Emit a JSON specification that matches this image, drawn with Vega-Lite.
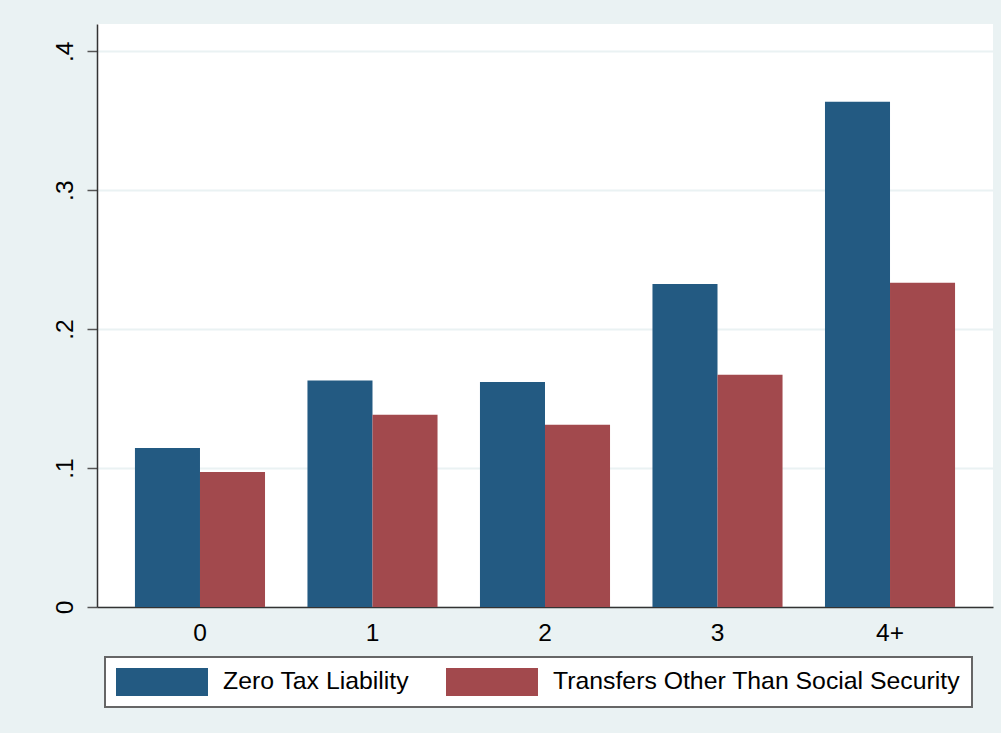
{
  "$schema": "https://vega.github.io/schema/vega-lite/v6.json",
  "width": 896,
  "height": 583,
  "autosize": {"type": "none"},
  "padding": {"left": 97, "top": 24, "right": 8, "bottom": 126},
  "background": "#EAF2F3",
  "config": {
    "font": "Liberation Sans",
    "view": {"fill": "white", "stroke": null},
    "legend": {"strokeWidth": 2}
  },
  "data": {
    "values": [
      {"kids": "0", "series": "Zero Tax Liability", "share": 0.1144},
      {"kids": "0", "series": "Transfers Other Than Social Security", "share": 0.0971},
      {"kids": "1", "series": "Zero Tax Liability", "share": 0.1630},
      {"kids": "1", "series": "Transfers Other Than Social Security", "share": 0.1383},
      {"kids": "2", "series": "Zero Tax Liability", "share": 0.1619},
      {"kids": "2", "series": "Transfers Other Than Social Security", "share": 0.1312},
      {"kids": "3", "series": "Zero Tax Liability", "share": 0.2324},
      {"kids": "3", "series": "Transfers Other Than Social Security", "share": 0.1671},
      {"kids": "4+", "series": "Zero Tax Liability", "share": 0.3637},
      {"kids": "4+", "series": "Transfers Other Than Social Security", "share": 0.2333}
    ]
  },
  "mark": {"type": "bar", "opacity": 1},
  "encoding": {
    "x": {
      "field": "kids",
      "type": "nominal",
      "sort": ["0", "1", "2", "3", "4+"],
      "scale": {"paddingInner": 0.246, "paddingOuter": 0.22},
      "axis": {
        "title": null,
        "labelAngle": 0,
        "labelFontSize": 24.5,
        "labelColor": "black",
        "labelPadding": 14,
        "ticks": false,
        "domainColor": "#333333",
        "domainWidth": 1.5,
        "grid": false
      }
    },
    "xOffset": {
      "field": "series",
      "type": "nominal",
      "sort": ["Zero Tax Liability", "Transfers Other Than Social Security"],
      "scale": {"paddingInner": 0, "paddingOuter": 0}
    },
    "y": {
      "field": "share",
      "type": "quantitative",
      "scale": {"domain": [0, 0.4196], "nice": false},
      "axis": {
        "title": null,
        "values": [0, 0.1, 0.2, 0.3, 0.4],
        "labelExpr": "datum.value == 0 ? '0' : replace(format(datum.value, '.1f'), '0.', '.')",
        "labelAngle": -90,
        "labelAlign": "center",
        "labelBaseline": "bottom",
        "labelFontSize": 24.5,
        "labelColor": "black",
        "labelPadding": 10,
        "tickSize": 10,
        "tickColor": "#555555",
        "tickWidth": 1.5,
        "domainColor": "#333333",
        "domainWidth": 1.5,
        "grid": true,
        "gridColor": "#EAF2F3",
        "gridWidth": 2
      }
    },
    "color": {
      "field": "series",
      "type": "nominal",
      "scale": {
        "domain": ["Zero Tax Liability", "Transfers Other Than Social Security"],
        "range": ["#235A82", "#A2494D"]
      },
      "legend": {
        "title": null,
        "orient": "none",
        "legendX": 8,
        "legendY": 633,
        "direction": "horizontal",
        "fillColor": "white",
        "strokeColor": "#666666",
        "padding": 11,
        "columnPadding": 36,
        "labelOffset": 79,
        "labelFontSize": 24.8,
        "labelColor": "black",
        "labelLimit": 600,
        "symbolType": "M-1,-1L5.571,-1L5.571,1L-1,1Z",
        "symbolSize": 784,
        "symbolStrokeWidth": 0,
        "symbolOpacity": 1
      }
    }
  }
}
